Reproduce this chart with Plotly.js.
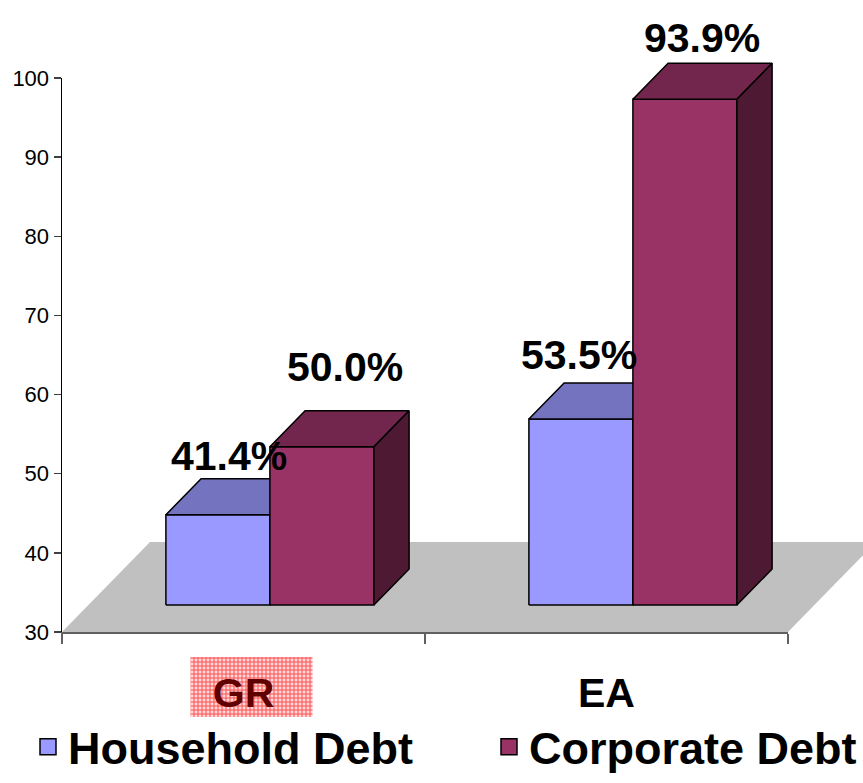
<!DOCTYPE html>
<html><head><meta charset="utf-8">
<script src="https://cdn.plot.ly/plotly-3.0.1.min.js"></script>
<style>html,body{margin:0;padding:0;background:#fff}#chart{width:863px;height:783px}</style>
</head><body><div id="chart"></div>
<script>
// ---------- data ----------
const categories = ['GR', 'EA'];
const seriesNames = ['Household Debt', 'Corporate Debt'];
const householdDebt = [41.4, 53.5];
const corporateDebt = [50.0, 93.9];
const yTickVals = [30, 40, 50, 60, 70, 80, 90, 100];

// ---------- styles / geometry ----------
const FONT = "'Liberation Sans', Arial, sans-serif";
const faceColors = [
  {front: '#9999FF', top: '#7373BF', side: '#4D4D80'},
  {front: '#993366', top: '#73264D', side: '#4D1933'}
];
const W = 863, H = 783;
const AX_L = 62, AX_R = 788, AX_B = 632, AX_T = 78;
const Y0 = 30, Y1 = 100;
const pxPerX = (AX_R - AX_L) / categories.length;
const pxPerY = (AX_B - AX_T) / (Y1 - Y0);
const xRange = [-0.5 - AX_L / pxPerX, -0.5 + (W - AX_L) / pxPerX];
const yRange = [Y0 - (H - AX_B) / pxPerY, Y0 + AX_B / pxPerY];
const FLOOR_DX = 88 / pxPerX, FLOOR_DY = 90 / pxPerY;   // depth of the 3D floor
const BAR_FRONT = 0.3, BAR_BACK = 0.7;                  // bar depth band
const BAR_W = 104 / pxPerX;
// label nudges in px (x right, y up) relative to bar top
const labelNudgeX = [[11, -2], [23, 17]];
const labelNudgeY = [[23, 28], [44, 25]];
const legendX = [28, 489];

const traces = [];
function poly(xs, ys, fillcolor, lineColor) {
  traces.push({
    type: 'scatter', mode: 'lines', xaxis: 'x', yaxis: 'y',
    x: xs.concat([xs[0]]), y: ys.concat([ys[0]]),
    fill: 'toself', fillcolor: fillcolor,
    line: {color: lineColor || '#000', width: lineColor ? 0 : 1.5},
    hoverinfo: 'skip', showlegend: false
  });
}

// label highlight behind GR
traces.push({
  type: 'scatter', mode: 'lines', xaxis: 'x', yaxis: 'y',
  x: [0 - 53 / pxPerX, 0 + 69 / pxPerX, 0 + 69 / pxPerX, 0 - 53 / pxPerX, 0 - 53 / pxPerX],
  y: [Y0 - 25 / pxPerY, Y0 - 25 / pxPerY, Y0 - 85 / pxPerY, Y0 - 85 / pxPerY, Y0 - 25 / pxPerY],
  fill: 'toself', fillcolor: '#ffb0b0',
  fillpattern: {shape: '+', fgcolor: '#ff5050', bgcolor: '#ffd8d8', size: 4, solidity: 0.45},
  line: {width: 0}, hoverinfo: 'skip', showlegend: false
});

// floor
const fx0 = -0.5, fx1 = categories.length - 0.5;
poly([fx0, fx1, fx1 + FLOOR_DX, fx0 + FLOOR_DX], [Y0, Y0, Y0 + FLOOR_DY, Y0 + FLOOR_DY], '#C0C0C0', '#C0C0C0');

const seriesValues = [householdDebt, corporateDebt];
const annotations = [];
categories.forEach((cat, c) => {
  seriesValues.forEach((vals, s) => {
    const v = vals[c];
    const xl = c + FLOOR_DX * BAR_FRONT + (s - 1) * BAR_W;
    const xr = xl + BAR_W;
    const yb = Y0 + FLOOR_DY * BAR_FRONT;
    const yt = v + FLOOR_DY * BAR_FRONT;
    const dx = FLOOR_DX * (BAR_BACK - BAR_FRONT), dy = FLOOR_DY * (BAR_BACK - BAR_FRONT);
    const col = faceColors[s];
    poly([xl, xr, xr, xl], [yb, yb, yt, yt], col.front);
    poly([xl, xr, xr + dx, xl + dx], [yt, yt, yt + dy, yt + dy], col.top);
    poly([xr, xr + dx, xr + dx, xr], [yb, yb + dy, yt + dy, yt], col.side);
    annotations.push({
      xref: 'x', yref: 'y', x: (xl + xr) / 2 + labelNudgeX[s][c] / pxPerX,
      y: yt + dy + labelNudgeY[s][c] / pxPerY,
      text: v.toFixed(1) + '%', showarrow: false, xanchor: 'center', yanchor: 'middle',
      font: {family: FONT, size: 41, weight: 'bold', color: '#000'}
    });
  });
});

// legend proxies (one legend per series to reproduce the spacing)
seriesNames.forEach((name, s) => {
  traces.push({
    type: 'scatter', mode: 'markers', xaxis: 'x', yaxis: 'y', x: [null], y: [null],
    name: name, showlegend: true, legend: s === 0 ? 'legend' : 'legend2',
    marker: {symbol: 'square', size: 30, color: faceColors[s].front, line: {color: '#000', width: 1.5}}
  });
});

// dummy trace for the visible axes subplot
traces.push({type: 'scatter', mode: 'markers', xaxis: 'x2', yaxis: 'y2', x: categories, y: [null, null],
  showlegend: false, hoverinfo: 'skip'});

function legendStyle(px) {
  return {
    orientation: 'h', x: px / W, xanchor: 'left', y: 0, yanchor: 'bottom',
    font: {family: FONT, size: 45, weight: 'bold', color: '#000'},
    itemsizing: 'trace', bgcolor: 'rgba(0,0,0,0)'
  };
}

const layout = {
  width: W, height: H,
  margin: {l: 0, r: 0, t: 0, b: 0},
  paper_bgcolor: '#fff', plot_bgcolor: 'rgba(0,0,0,0)',
  showlegend: true,
  xaxis: {domain: [0, 1], range: xRange, visible: false, fixedrange: true},
  yaxis: {domain: [0, 1], range: yRange, visible: false, fixedrange: true},
  xaxis2: {
    anchor: 'y2', domain: [AX_L / W, AX_R / W], type: 'category', categoryarray: categories,
    range: [-0.5, categories.length - 0.5],
    tickvals: categories,
    ticktext: ['<span style="color:#600000">GR</span>', 'EA'],
    tickson: 'boundaries', ticks: 'outside', ticklen: 10, tickcolor: '#606060', tickwidth: 1.5,
    ticklabelstandoff: 24,
    showline: true, linecolor: '#606060', linewidth: 1.5, showgrid: false, zeroline: false,
    tickfont: {family: FONT, size: 41, weight: 'bold', color: '#000'}
  },
  yaxis2: {
    anchor: 'x2', domain: [(H - AX_B) / H, (H - AX_T) / H], range: [Y0, Y1],
    tickvals: yTickVals, ticktext: yTickVals.map(String),
    ticks: 'outside', ticklen: 7, tickcolor: '#404040', tickwidth: 1.5,
    showline: true, linecolor: '#000', linewidth: 1.5, showgrid: false, zeroline: false,
    tickfont: {family: FONT, size: 22, color: '#000'}
  },
  legend: legendStyle(legendX[0]),
  legend2: legendStyle(legendX[1]),
  annotations: annotations
};

Plotly.newPlot('chart', traces, layout, {staticPlot: true});
</script>
</body></html>
